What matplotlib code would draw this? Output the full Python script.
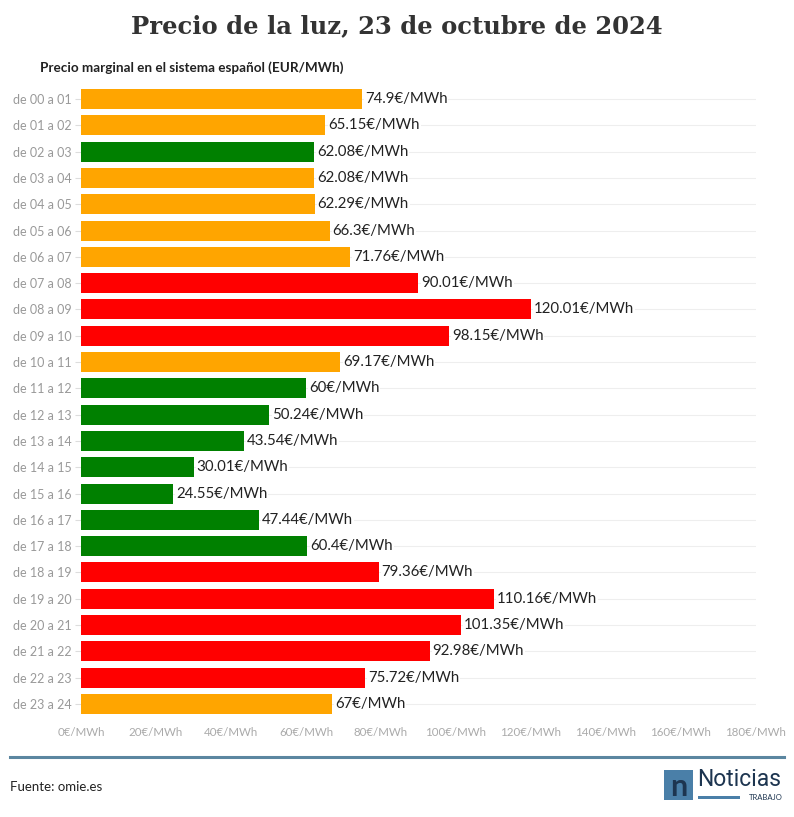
import matplotlib.pyplot as plt
from matplotlib.patches import Rectangle

horas = ["de 00 a 01", "de 01 a 02", "de 02 a 03", "de 03 a 04", "de 04 a 05", "de 05 a 06",
         "de 06 a 07", "de 07 a 08", "de 08 a 09", "de 09 a 10", "de 10 a 11", "de 11 a 12",
         "de 12 a 13", "de 13 a 14", "de 14 a 15", "de 15 a 16", "de 16 a 17", "de 17 a 18",
         "de 18 a 19", "de 19 a 20", "de 20 a 21", "de 21 a 22", "de 22 a 23", "de 23 a 24"]
precios = [74.9, 65.15, 62.08, 62.08, 62.29, 66.3, 71.76, 90.01, 120.01, 98.15, 69.17, 60,
           50.24, 43.54, 30.01, 24.55, 47.44, 60.4, 79.36, 110.16, 101.35, 92.98, 75.72, 67]
etiquetas = ["74.9", "65.15", "62.08", "62.08", "62.29", "66.3", "71.76", "90.01", "120.01",
             "98.15", "69.17", "60", "50.24", "43.54", "30.01", "24.55", "47.44", "60.4",
             "79.36", "110.16", "101.35", "92.98", "75.72", "67"]
# o = medio, g = barato, r = caro
nivel = ["o", "o", "g", "o", "o", "o", "o", "r", "r", "r", "o", "g",
         "g", "g", "g", "g", "g", "g", "r", "r", "r", "r", "r", "o"]
xticks = [0, 20, 40, 60, 80, 100, 120, 140, 160, 180]

paleta = {"o": "#FFA500", "g": "#008000", "r": "#FF0000"}
colores = [paleta[n] for n in nivel]

plt.rcParams['font.family'] = ['Lato', 'DejaVu Sans']

fig = plt.figure(figsize=(7.94, 8.17), dpi=100)
ax = fig.add_axes([0.102, 0.1222, 0.850, 0.7727])

y = list(range(len(horas)))
ax.barh(y, precios, height=0.76, color=colores, zorder=2)
for i, (v, t) in enumerate(zip(precios, etiquetas)):
    ax.text(v + 0.8, i, f"{t}€/MWh", va='center', ha='left', fontsize=10.8, color='#222222', zorder=3,
            bbox=dict(facecolor='white', edgecolor='none', pad=0.5))

ax.set_ylim(len(horas) - 0.5, -0.5)
ax.set_xlim(0, 180)
ax.set_yticks(y)
ax.set_yticklabels(horas, fontsize=9, color='#999999')
ax.set_xticks(xticks)
ax.set_xticklabels([f"{t}€/MWh" for t in xticks], fontsize=8.3, color='#aaaaaa')
ax.tick_params(axis='y', length=4, color='#dddddd', pad=3)
ax.tick_params(axis='x', length=0, pad=7)
ax.grid(axis='y', color='#eeeeee', linewidth=0.8, zorder=0)
for s in ax.spines.values():
    s.set_visible(False)

fig.text(0.5, 0.968, "Precio de la luz, 23 de octubre de 2024", ha='center', va='center',
         fontsize=17.5, fontweight='bold', family=['DejaVu Serif'], color='#333333')
fig.text(0.050, 0.917, "Precio marginal en el sistema español (EUR/MWh)", ha='left', va='center',
         fontsize=9.7, fontweight='bold', color='#222222')

fig.add_artist(plt.Line2D([0.013, 0.987], [1 - 757 / 817] * 2, color='#5b86a0', linewidth=2.2,
                          transform=fig.transFigure))
fig.text(0.013, 1 - 787 / 817, "Fuente: omie.es", ha='left', va='center', fontsize=9.5, color='#222222')

# logo
fig.add_artist(Rectangle((664 / 794, 1 - 800 / 817), 29 / 794, 30 / 817, facecolor='#4a7fa8',
                         edgecolor='none', transform=fig.transFigure))
fig.text(678.5 / 794, 1 - 787 / 817, "n", ha='center', va='center', fontsize=22, fontweight='bold',
         color='#1d3550')
fig.text(697 / 794, 1 - 780 / 817, "Noticias", ha='left', va='center', fontsize=16.5,
         family=['Roboto', 'DejaVu Sans'], color='#1d3550')
fig.add_artist(Rectangle((698 / 794, 1 - 799 / 817), 42 / 794, 3 / 817, facecolor='#4a7fa8',
                         edgecolor='none', transform=fig.transFigure))
fig.text(783 / 794, 1 - 798 / 817, "TRABAJO", ha='right', va='center', fontsize=5.5, color='#1d3550')

fig.savefig("out.png", dpi=100, facecolor='white')
